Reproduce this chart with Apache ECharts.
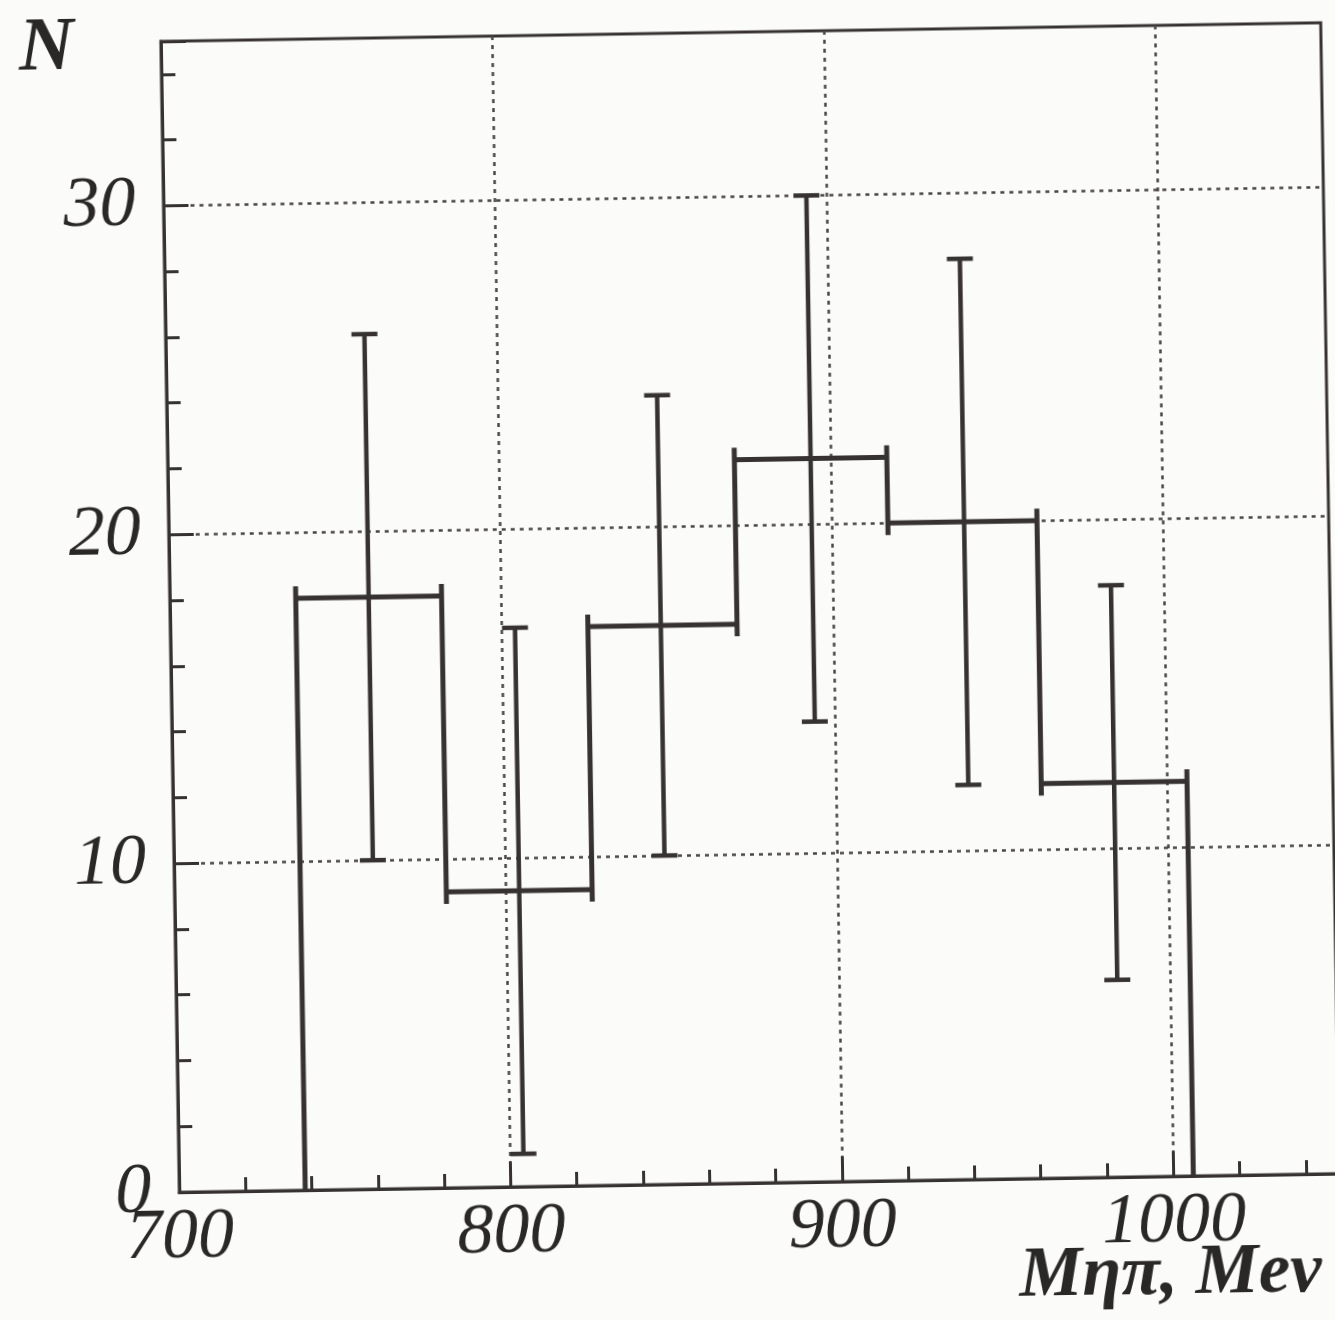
<!DOCTYPE html>
<html>
<head>
<meta charset="utf-8">
<script src="https://cdn.jsdelivr.net/npm/echarts@6/dist/echarts.min.js"></script>
<style>
  html, body { margin: 0; padding: 0; background: #fbfbf9; }
  /* the scanned page is tilted a little, so the whole plot is turned with it */
  #container { width: 1335px; height: 1320px; transform: rotate(-0.92deg); transform-origin: 751px 607px; }
</style>
</head>
<body>
<div id="container"></div>
<script>
// histogram of M(eta pi), bins in MeV
const binEdges = [738, 782, 826, 871, 917, 962, 1006];
const binCenters = [760, 804, 848, 894, 940, 984];
const counts = [18, 9, 17, 22, 20, 12];
const errors = [8, 8, 7, 8, 8, 6];
const xTickLabels = [700, 800, 900, 1000];
const yTickLabels = [0, 10, 20, 30];

const ink = '#363232';
const textInk = '#2a2727';
const font = "'Liberation Serif', 'DejaVu Serif', serif";

let chart = echarts.init(document.getElementById('container'));

const histData = counts.map((c, i) => [
  binEdges[i],
  binEdges[i + 1],
  c,
  i === 0 ? 0 : counts[i - 1],
  i === counts.length - 1 ? 0 : -1,
]);
const errData = binCenters.map((x, i) => [x, counts[i] - errors[i], counts[i] + errors[i]]);

function renderStep(params, api) {
  const over = 12;
  const x0 = api.coord([api.value(0), 0])[0];
  const x1 = api.coord([api.value(1), 0])[0];
  const y = api.coord([0, api.value(2)])[1];
  const yPrev = api.coord([0, api.value(3)])[1];
  const style = {stroke: ink, lineWidth: 5};
  const children = [
    {type: 'line', shape: {x1: x0, y1: y, x2: x1, y2: y}, style},
    {type: 'line', shape: {x1: x0, y1: Math.min(y, yPrev) - over, x2: x0, y2: Math.max(y, yPrev) + over}, style},
  ];
  if (api.value(4) >= 0) {
    const yNext = api.coord([0, api.value(4)])[1];
    children.push({type: 'line', shape: {x1: x1, y1: y - over, x2: x1, y2: yNext + over}, style});
  }
  return {type: 'group', children};
}

function renderErr(params, api) {
  const cap = 13;
  const lo = api.coord([api.value(0), api.value(1)]);
  const hi = api.coord([api.value(0), api.value(2)]);
  const style = {stroke: ink, lineWidth: 4.5};
  return {
    type: 'group',
    children: [
      {type: 'line', shape: {x1: lo[0], y1: lo[1], x2: hi[0], y2: hi[1]}, style},
      {type: 'line', shape: {x1: hi[0] - cap, y1: hi[1], x2: hi[0] + cap, y2: hi[1]}, style},
      {type: 'line', shape: {x1: lo[0] - cap, y1: lo[1], x2: lo[0] + cap, y2: lo[1]}, style},
    ],
  };
}

const dotted = {color: '#4a4646', width: 2.5, type: [4, 5]};

let option = {
  backgroundColor: '#fbfbf9',
  animation: false,
  grid: {
    left: 170,
    top: 32,
    width: 1160,
    height: 1151,
    show: true,
    borderColor: ink,
    borderWidth: 3,
    backgroundColor: 'transparent',
  },
  xAxis: [
    {
      type: 'value',
      min: 700,
      max: 1050,
      interval: 100,
      position: 'bottom',
      axisLine: {show: true, lineStyle: {color: ink, width: 3}},
      axisTick: {show: true, inside: true, length: 25, lineStyle: {color: ink, width: 3}},
      axisLabel: {
        margin: 10,
        fontSize: 72,
        fontStyle: 'italic',
        fontFamily: font,
        color: textInk,
        formatter: (v) => (xTickLabels.includes(v) ? String(v) : ''),
      },
      splitLine: {show: true, showMinLine: false, showMaxLine: false, lineStyle: dotted},
    },
    {
      type: 'value',
      min: 700,
      max: 1050,
      interval: 20,
      position: 'bottom',
      axisLine: {show: false},
      axisTick: {show: true, inside: true, length: 14, lineStyle: {color: ink, width: 3}},
      axisLabel: {show: false},
      splitLine: {show: false},
    },
  ],
  yAxis: [
    {
      type: 'value',
      min: 0,
      max: 35,
      interval: 10,
      position: 'left',
      axisLine: {show: true, lineStyle: {color: ink, width: 3}},
      axisTick: {show: true, inside: true, length: 25, lineStyle: {color: ink, width: 3}},
      axisLabel: {
        margin: 28,
        fontSize: 72,
        fontStyle: 'italic',
        fontFamily: font,
        color: textInk,
        formatter: (v) => (yTickLabels.includes(v) ? String(v) : ''),
      },
      splitLine: {show: true, showMinLine: false, showMaxLine: false, lineStyle: dotted},
    },
    {
      type: 'value',
      min: 0,
      max: 35,
      interval: 2,
      position: 'left',
      axisLine: {show: false},
      axisTick: {show: true, inside: true, length: 14, lineStyle: {color: ink, width: 3}},
      axisLabel: {show: false},
      splitLine: {show: false},
    },
  ],
  graphic: [
    {
      type: 'text',
      left: 28,
      top: 0,
      style: {text: 'N', fontSize: 76, fontStyle: 'italic', fontWeight: 'bold', fontFamily: font, fill: textInk},
    },
    {
      type: 'text',
      right: 24,
      top: 1246,
      style: {text: 'Mηπ, Mev', fontSize: 71, fontStyle: 'italic', fontWeight: 'bold', fontFamily: font, fill: textInk},
    },
  ],
  series: [
    {
      type: 'custom',
      xAxisIndex: 0,
      yAxisIndex: 0,
      clip: true,
      renderItem: renderStep,
      data: histData,
    },
    {
      type: 'custom',
      xAxisIndex: 0,
      yAxisIndex: 0,
      clip: true,
      renderItem: renderErr,
      data: errData,
    },
  ],
};

chart.setOption(option);
</script>
</body>
</html>
